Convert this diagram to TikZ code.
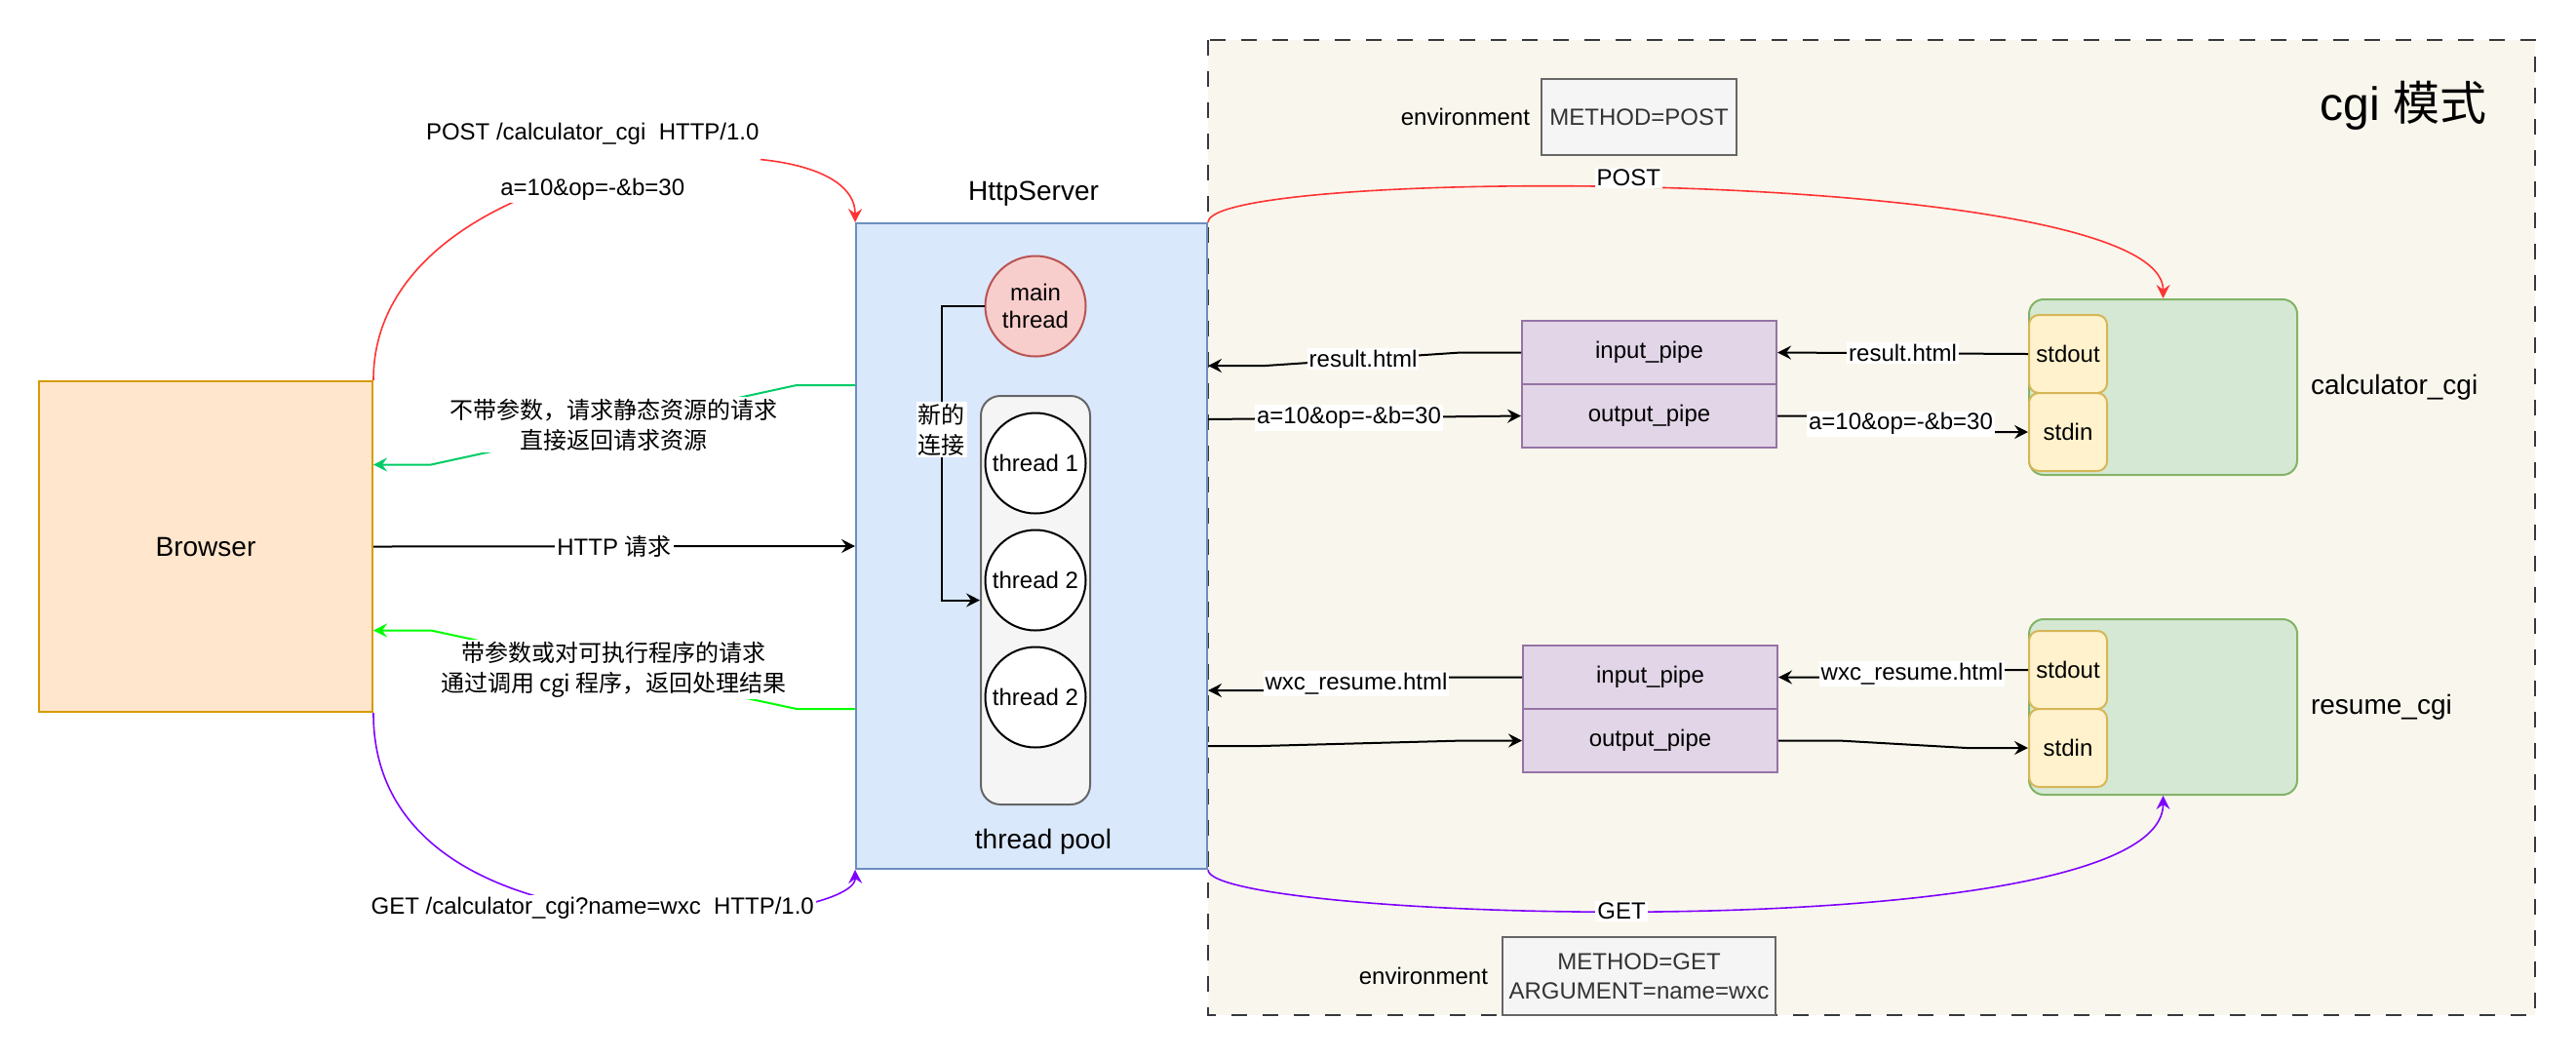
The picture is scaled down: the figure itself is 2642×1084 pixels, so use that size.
\documentclass[tikz,border=0pt]{standalone}
\usepackage{fontspec}
\setmainfont{Liberation Sans}
\newfontfamily\cjk{Noto Sans CJK SC}
\usetikzlibrary{positioning, calc, arrows.meta}
\definecolor{browserfill}{HTML}{FFE6CC}
\definecolor{browserline}{HTML}{D79B00}
\definecolor{serverfill}{HTML}{DAE8FC}
\definecolor{serverline}{HTML}{6C8EBF}
\definecolor{mainfill}{HTML}{F8CECC}
\definecolor{mainline}{HTML}{B85450}
\definecolor{poolfill}{HTML}{F5F5F5}
\definecolor{poolline}{HTML}{666666}
\definecolor{cgifill}{HTML}{F9F7ED}
\definecolor{cgiline}{HTML}{36393D}
\definecolor{pipefill}{HTML}{E1D5E7}
\definecolor{pipeline}{HTML}{9673A6}
\definecolor{procfill}{HTML}{D5E8D4}
\definecolor{procline}{HTML}{82B366}
\definecolor{iofill}{HTML}{FFF2CC}
\definecolor{ioline}{HTML}{D6B656}
\definecolor{postred}{HTML}{FF3333}
\definecolor{getpurple}{HTML}{7F00FF}
\definecolor{staticgreen}{HTML}{00CC66}
\definecolor{cgigreen}{HTML}{00FF00}
\definecolor{envtext}{HTML}{333333}

\begin{document}
\begin{tikzpicture}[x=0.5pt, y=-0.5pt, font=\fontsize{12}{14.4}\selectfont,
    conn/.style={line width=1pt, -{Stealth[length=7pt, width=7pt, inset=2.5pt]}},
    curve/.style={line width=0.8pt, -{Stealth[length=7pt, width=7pt, inset=2.5pt]}},
    lbl/.style={fill=white, inner sep=1pt, text=black},
    zh/.style={font=\cjk\fontsize{12}{15.5}\selectfont, align=center},
    big/.style={font=\fontsize{14}{16.8}\selectfont},
    thr/.style={circle, draw, line width=1pt, fill=white, minimum size=51.5pt, inner sep=0pt},
    io/.style={draw=ioline, fill=iofill, line width=1pt, rounded corners=5pt, minimum size=40pt, inner sep=0pt},
    pipe/.style={draw=pipeline, fill=pipefill, line width=1pt, minimum width=130.5pt, minimum height=32.5pt, inner sep=0pt},
    proc/.style={draw=procline, fill=procfill, line width=1pt, rounded corners=7.5pt, minimum width=137.5pt, minimum height=90pt},
    env/.style={draw=poolline, fill=poolfill, line width=1pt, text=envtext, align=center, inner sep=0pt}]
        %disegno sfondo
        \fill[white] (0,0) rectangle (2642,1084);
        \useasboundingbox (0,0) rectangle (2642,1084);
        %disegno zona cgi
        \draw[draw=cgiline, fill=cgifill, line width=1pt, dash pattern=on 8pt off 8pt] (1239,41) rectangle (2600,1041);
        \node[font=\fontsize{24}{28}\selectfont] (cgititle) at (2465,108) {cgi {\cjk 模式}};
        %disegno browser e server
        \node[draw=browserline, fill=browserfill, line width=1pt, minimum width=171pt, minimum height=169.5pt, big] (browser) at (211,560.5) {Browser};
        \node[draw=serverline, fill=serverfill, line width=1pt, minimum width=180pt, minimum height=331pt] (server) at (1058,560) {};
        \node[big] (servertitle) at (1060,199) {HttpServer};
        %disegno thread
        \node[thr, fill=mainfill, draw=mainline, align=center] (mainthr) at (1062,314) {main\\thread};
        \node[draw=poolline, fill=poolfill, line width=1pt, rounded corners=10pt, minimum width=56pt, minimum height=209.5pt] (pool) at (1062,615.5) {};
        \node[thr] (thr1) at (1062,475) {thread 1};
        \node[thr] (thr2) at (1062,595) {thread 2};
        \node[thr] (thr3) at (1062,715) {thread 2};
        \node[big] (pooltitle) at (1070,863) {thread pool};
        \draw[conn] (mainthr.west) -- ++(-44,0) |- node[lbl, zh, pos=0.21] (newconn) {新的\\连接} (pool.west);
        %disegno environment
        \node[env, minimum width=100pt, minimum height=39pt] (envpost) at (1681,120) {METHOD=POST};
        \node[left=2pt of envpost] (envpostlbl) {environment};
        \node[env, minimum width=140pt, minimum height=40pt, font=\fontsize{12}{15}\selectfont] (envget) at (1681,1001) {METHOD=GET\\ARGUMENT=name=wxc};
        \node[left=3.5pt of envget] (envgetlbl) {environment};
        %disegno calculator_cgi
        \node[proc] (calc) at (2218.5,397) {};
        \node[right=3pt of calc, big] (calclbl) {calculator\_cgi};
        \node[io] (cstdout) at (2121,363) {stdout};
        \node[io] (cstdin) at (2121,443) {stdin};
        \node[pipe] (cin) at (1691.5,361.5) {input\_pipe};
        \node[pipe] (cout) at (1691.5,426.5) {output\_pipe};
        %disegno resume_cgi
        \node[proc] (resume) at (2218.5,725) {};
        \node[right=3pt of resume, big] (resumelbl) {resume\_cgi};
        \node[io] (rstdout) at (2121,687) {stdout};
        \node[io] (rstdin) at (2121,767) {stdin};
        \node[pipe] (rin) at (1692.5,694.5) {input\_pipe};
        \node[pipe] (rout) at (1692.5,759.5) {output\_pipe};
        %disegno richieste del browser
        \draw[conn] (browser.east) -- node[lbl] (httpreq) {HTTP {\cjk 请求}} (server.west);
        \draw[curve, postred] (browser.north east) .. controls (382,150) and (878,110) .. (server.north west)
            node[lbl, pos=0.47, yshift=7pt, align=center] (postreq) {POST /calculator\_cgi\ \ HTTP/1.0\\[14.4pt]a=10\&op=-\&b=30};
        \draw[curve, getpurple] (browser.south east) .. controls (382,1000) and (878,950) .. (server.south west)
            node[lbl, pos=0.47] (getreq) {GET /calculator\_cgi?name=wxc\ \ HTTP/1.0};
        %disegno risposte verdi
        \draw[conn, staticgreen] ([yshift=82.5pt]server.west) -- ++(-60,0) -- node[lbl, zh] (staticlbl) {不带参数，请求静态资源的请求\\直接返回请求资源} ($([yshift=42pt]browser.east)+(59,0)$) -- ([yshift=42pt]browser.east);
        \draw[conn, cgigreen] ([yshift=-83.5pt]server.west) -- ++(-60,0) -- node[lbl, zh] (cgilbl) {带参数或对可执行程序的请求\\通过调用 cgi 程序，返回处理结果} ($([yshift=-43pt]browser.east)+(59,0)$) -- ([yshift=-43pt]browser.east);
        %disegno curve POST e GET
        \draw[curve, postred] (server.north east) .. controls (1239,170) and (2219,170) .. (calc.north)
            node[lbl, pos=0.46, yshift=5pt] (postlbl) {POST};
        \draw[curve, getpurple] (server.south east) .. controls (1239,945) and (2219,975) .. (resume.south)
            node[lbl, pos=0.455] (getlbl) {GET};
        %disegno pipe calculator_cgi
        \draw[conn] (cstdout.west) -- node[lbl] (res2) {result.html} (cin.east);
        \draw[conn] (cin.west) -- ++(-62,0) -- node[lbl] (res1) {result.html} ([xshift=29.5pt, yshift=92.5pt]server.east) -- ([yshift=92.5pt]server.east);
        \draw[conn] ([yshift=65pt]server.east) -- node[lbl, pos=0.45] (args1) {a=10\&op=-\&b=30} (cout.west);
        \draw[conn] (cout.east) -- ++(33,0) -- node[lbl] (args2) {a=10\&op=-\&b=30} ([xshift=-18.5pt]cstdin.west) -- (cstdin.west);
        %disegno pipe resume_cgi
        \draw[conn] (rstdout.west) -- ++(-26,0) -- node[lbl] (wxc2) {wxc\_resume.html} ([xshift=22pt]rin.east) -- (rin.east);
        \draw[conn] (rin.west) -- ++(-78,0) -- node[lbl] (wxc1) {wxc\_resume.html} ([xshift=30pt, yshift=-74pt]server.east) -- ([yshift=-74pt]server.east);
        \draw[conn] ([yshift=-102.5pt]server.east) -- ++(54,0) -- ([xshift=-30pt]rout.west) -- (rout.west);
        \draw[conn] (rout.east) -- ++(62,0) -- ([xshift=-31.5pt]rstdin.west) -- (rstdin.west);
\end{tikzpicture}
\end{document}
